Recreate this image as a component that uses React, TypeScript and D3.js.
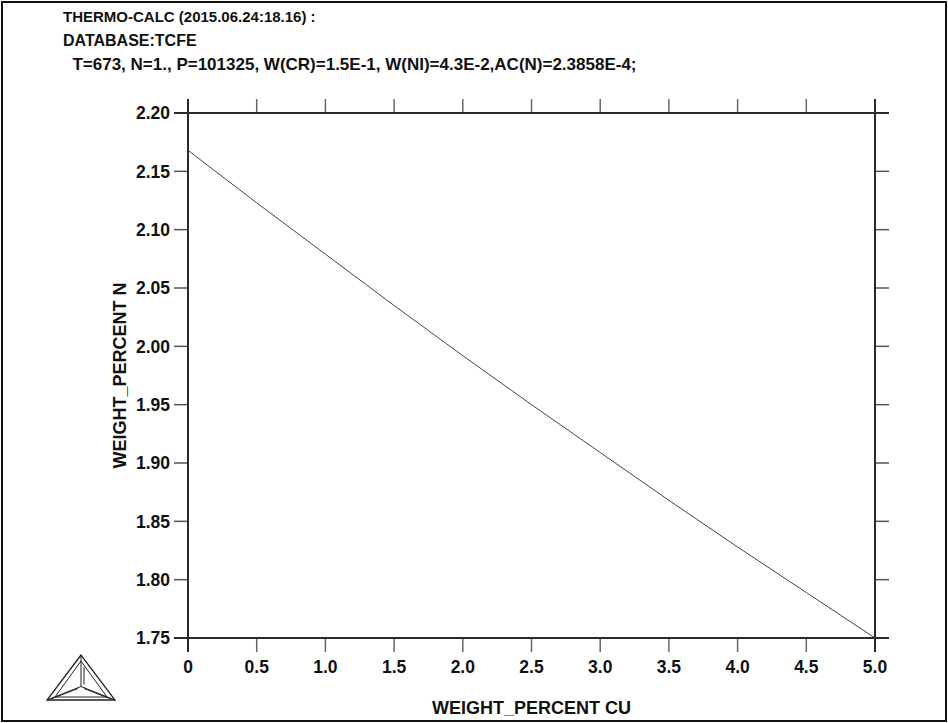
import React from "react";
import * as d3 from "d3";

// weight percent Cu vs weight percent N (T=673)
const cuValues = [0, 0.5, 1.0, 1.5, 2.0, 2.5, 3.0, 3.5, 4.0, 4.5, 5.0];
const nValues = [2.168, 2.123, 2.079, 2.035, 1.992, 1.95, 1.909, 1.868, 1.828, 1.789, 1.75];
const xTicks = [0, 0.5, 1.0, 1.5, 2.0, 2.5, 3.0, 3.5, 4.0, 4.5, 5.0];
const yTicks = [1.75, 1.8, 1.85, 1.9, 1.95, 2.0, 2.05, 2.1, 2.15, 2.2];
const headerLines = [
  "THERMO-CALC (2015.06.24:18.16) :",
  "DATABASE:TCFE",
  "  T=673, N=1., P=101325, W(CR)=1.5E-1, W(NI)=4.3E-2,AC(N)=2.3858E-4;",
];
const headerSizes = [15, 16, 17];

const W = 948;
const H = 723;
const margin = { top: 113, right: 73, bottom: 85, left: 188 };
const font = "'Liberation Sans', Arial, sans-serif";
const tick = 14;

export default function App() {
  const plotW = W - margin.left - margin.right;
  const plotH = H - margin.top - margin.bottom;

  const x = d3.scaleLinear().domain([0, 5]).range([0, plotW]);
  const y = d3.scaleLinear().domain([1.75, 2.2]).range([plotH, 0]);

  const line = d3
    .line<number>()
    .x((d, i) => x(cuValues[i]))
    .y((d) => y(d));

  // Thermo-Calc logo triangle
  const lx = 81, ly = 655, lw = 68, lh = 45;
  const A: [number, number] = [lx, ly];
  const B: [number, number] = [lx - lw / 2, ly + lh];
  const C: [number, number] = [lx + lw / 2, ly + lh];
  const c: [number, number] = [lx, ly + lh * 0.7];

  return (
    <svg
      width={W}
      height={H}
      style={{ position: "absolute", left: 0, top: 0, background: "#fff" }}
      fontFamily={font}
      fontWeight="bold"
    >
      <rect x={2} y={2} width={W - 4} height={H - 4} fill="none" stroke="#111" strokeWidth={2} />

      {headerLines.map((t, i) => (
        <text key={i} x={63} y={22 + i * 24} fontSize={headerSizes[i]} fill="#111" style={{ whiteSpace: "pre" }}>
          {t}
        </text>
      ))}

      <g transform={`translate(${margin.left},${margin.top})`}>
        {xTicks.map((t) => (
          <g key={"x" + t} stroke="#666" strokeWidth={1.5}>
            <line x1={x(t)} x2={x(t)} y1={plotH} y2={plotH + tick} />
            <line x1={x(t)} x2={x(t)} y1={0} y2={-tick} />
          </g>
        ))}
        {yTicks.map((t) => (
          <g key={"y" + t} stroke="#555" strokeWidth={1.5}>
            <line x1={-tick} x2={0} y1={y(t)} y2={y(t)} />
            <line x1={plotW} x2={plotW + tick} y1={y(t)} y2={y(t)} />
          </g>
        ))}

        {/* frame, lines run past the corners */}
        <g stroke="#2a2a2a" strokeWidth={2}>
          <line x1={-tick} x2={plotW + tick} y1={0} y2={0} />
          <line x1={-tick} x2={plotW + tick} y1={plotH} y2={plotH} />
          <line x1={0} x2={0} y1={-tick} y2={plotH + tick} />
          <line x1={plotW} x2={plotW} y1={-tick} y2={plotH + tick} />
        </g>

        {xTicks.map((t) => (
          <text key={"xl" + t} x={x(t)} y={plotH + 35} textAnchor="middle" fontSize={17.5} fill="#111">
            {t === 0 ? "0" : d3.format(".1f")(t)}
          </text>
        ))}
        {yTicks.map((t) => (
          <text key={"yl" + t} x={-18} y={y(t)} dy="0.36em" textAnchor="end" fontSize={17.5} fill="#111">
            {d3.format(".2f")(t)}
          </text>
        ))}

        <path d={line(nValues) ?? ""} fill="none" stroke="#444" strokeWidth={1} />

        <text x={plotW / 2} y={plotH + 76} textAnchor="middle" fontSize={18} fill="#111">
          WEIGHT_PERCENT CU
        </text>
        <text
          transform={`translate(${-62},${plotH / 2}) rotate(-90)`}
          textAnchor="middle"
          fontSize={18}
          fill="#111"
        >
          WEIGHT_PERCENT N
        </text>
      </g>

      <g fill="none" stroke="#222" strokeWidth={1}>
        <path d={`M${A}L${B}L${C}Z`} strokeWidth={1.3} />
        <path d={`M${lx},${ly + 6}L${B[0] + 8},${B[1] - 3}L${C[0] - 8},${C[1] - 3}Z`} />
        <path d={`M${A}L${c}M${B}L${c}M${C}L${c}`} />
        <path d={`M${lx + 3},${ly + 12}L${lx + 3},${c[1] - 2}M${B[0] + 4},${B[1] - 1}L${c[0] - 3},${c[1] + 2}M${C[0] - 4},${C[1] - 1}L${c[0] + 3},${c[1] + 2}`} />
      </g>
    </svg>
  );
}
